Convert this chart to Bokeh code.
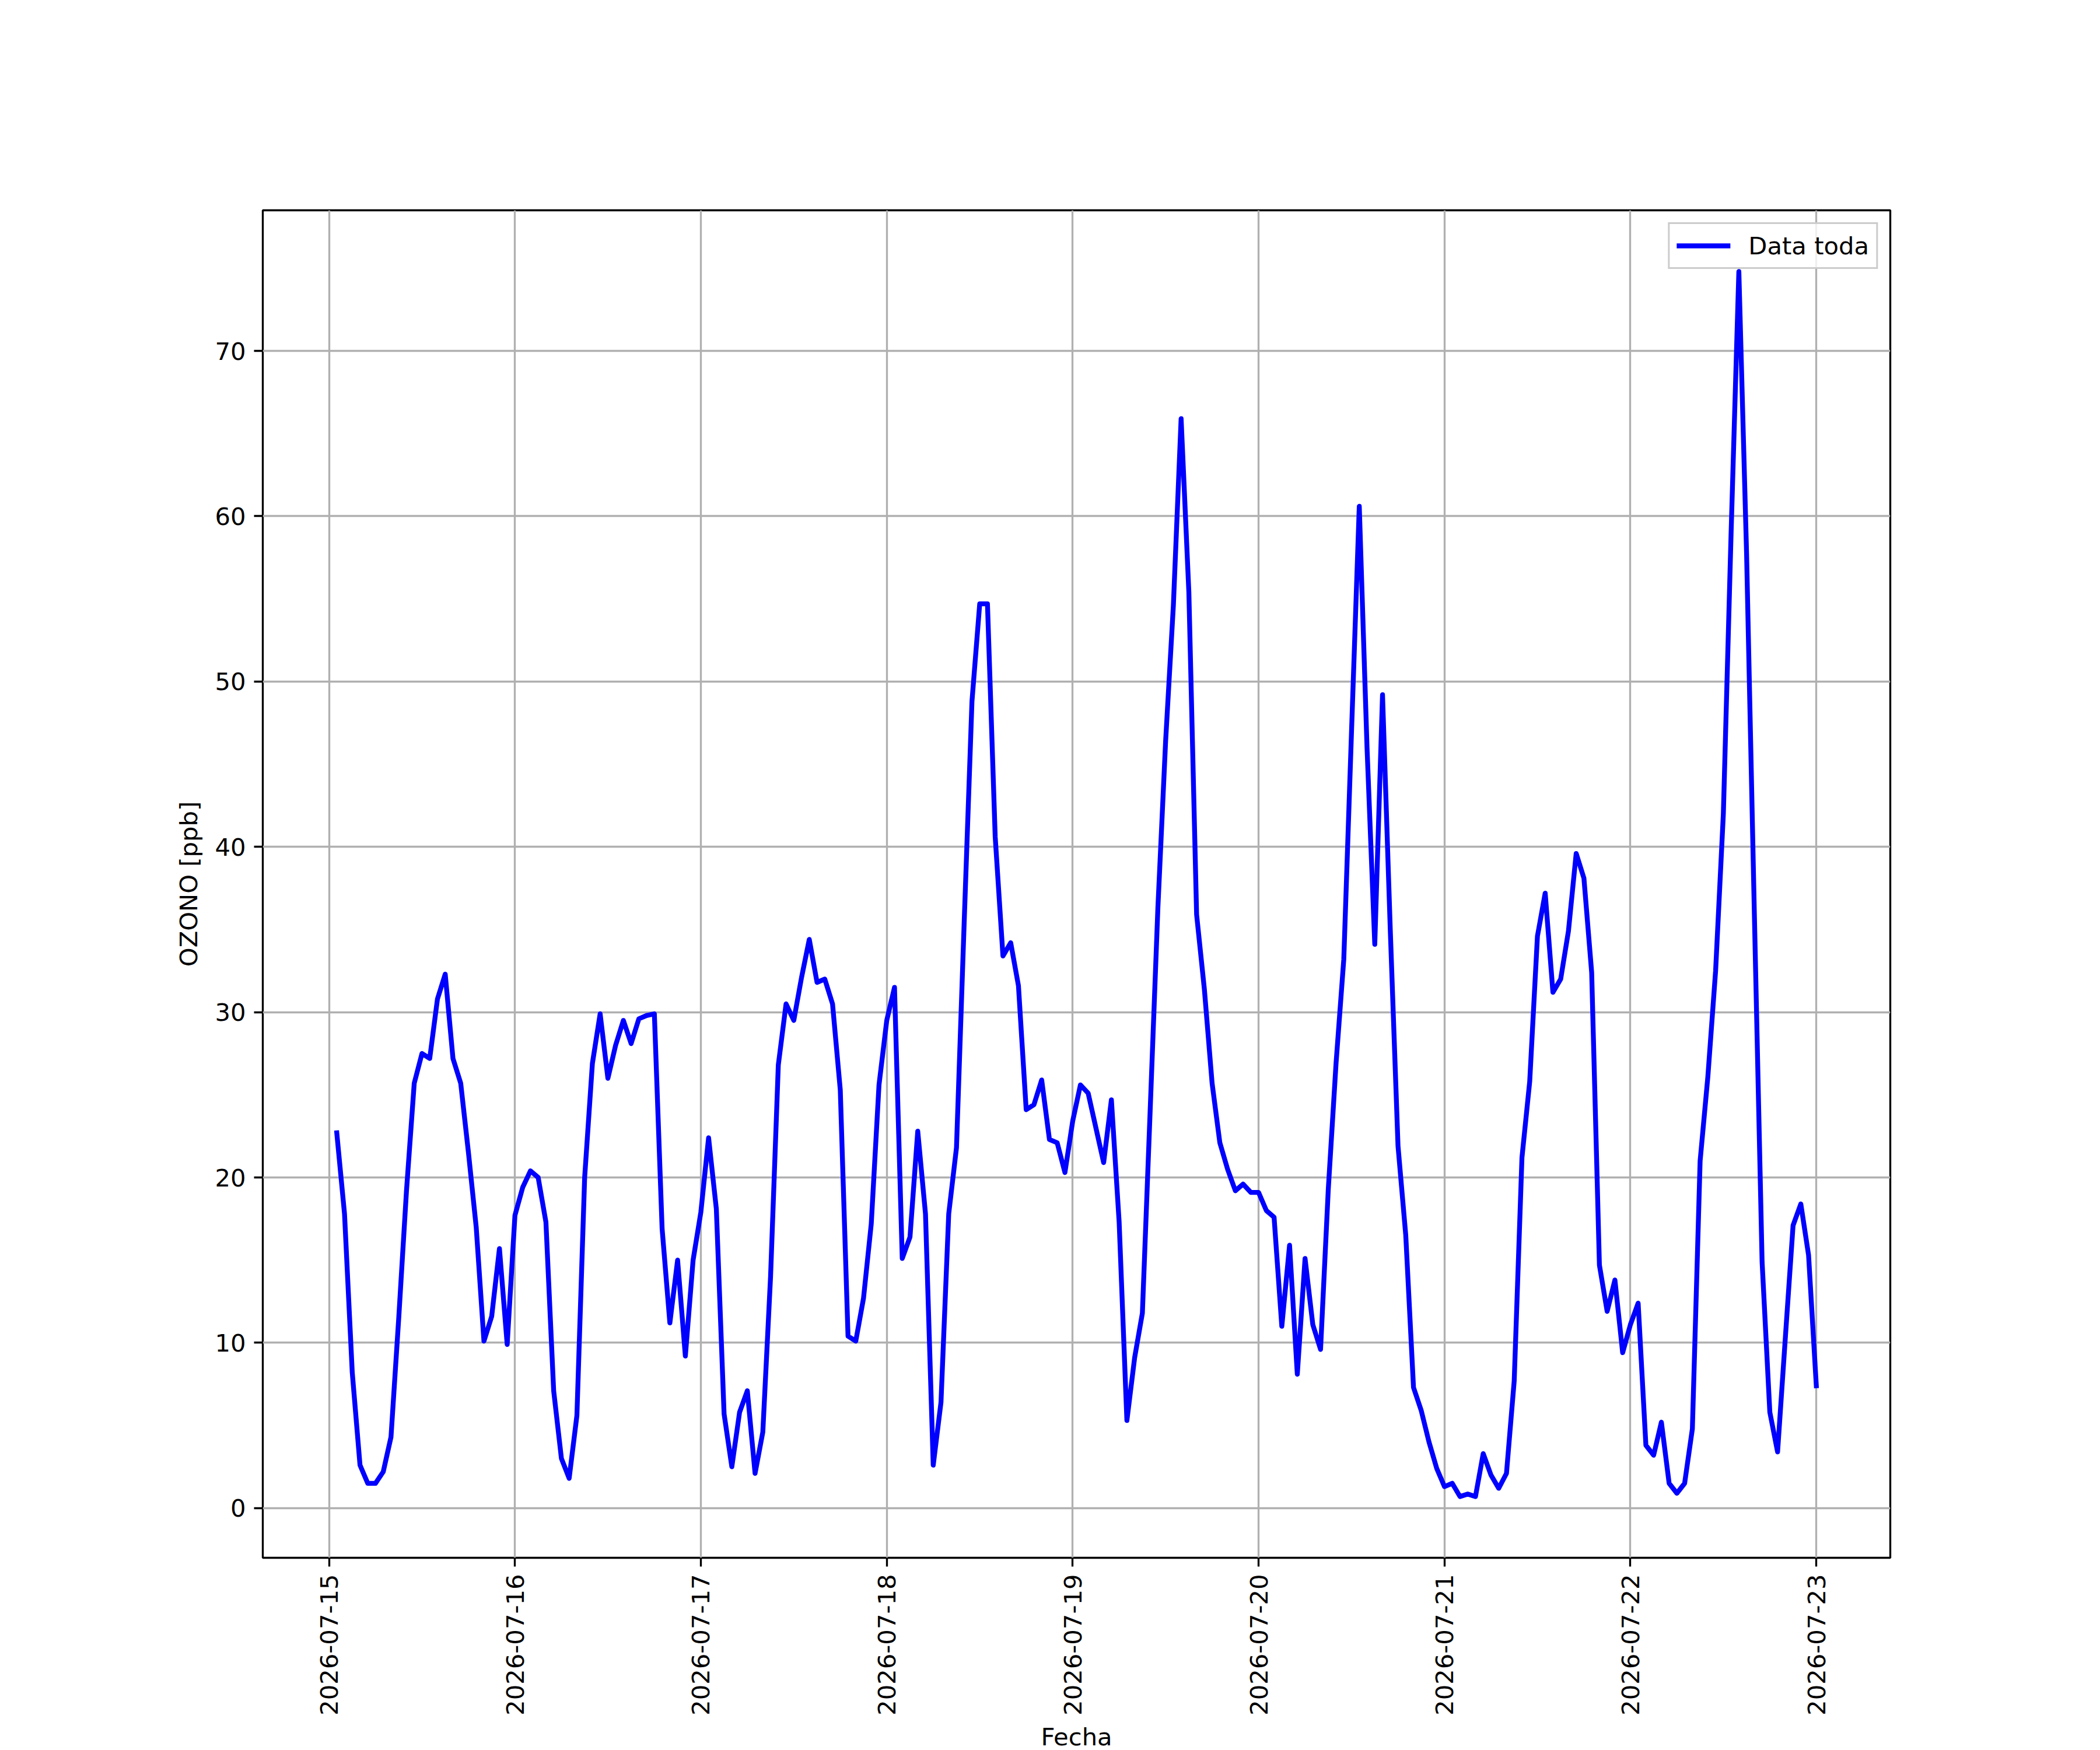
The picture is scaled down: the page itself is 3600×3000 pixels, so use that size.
import math
import pandas as pd
from bokeh.plotting import figure
from bokeh.models import Range1d, FixedTicker, DatetimeTickFormatter, ColumnDataSource
from bokeh.embed import file_html
from bokeh.resources import INLINE

# Hourly ozone readings [ppb], one list per day (01:00 .. 24:00)
o3_jul15 = [22.7, 17.8, 8.2, 2.6, 1.5, 1.5, 2.2, 4.3, 11.5, 19.2, 25.7, 27.5,
            27.2, 30.8, 32.3, 27.2, 25.7, 21.5, 17.0, 10.1, 11.6, 15.7, 9.9, 17.7]
o3_jul16 = [19.4, 20.4, 20.0, 17.3, 7.1, 3.0, 1.8, 5.6, 20.0, 26.9, 29.9, 26.0,
            28.0, 29.5, 28.1, 29.6, 29.8, 29.9, 16.9, 11.2, 15.0, 9.2, 15.0, 17.9]
o3_jul17 = [22.4, 18.1, 5.7, 2.5, 5.8, 7.1, 2.1, 4.6, 14.0, 26.8, 30.5, 29.5,
            32.1, 34.4, 31.8, 32.0, 30.5, 25.3, 10.4, 10.1, 12.7, 17.2, 25.6, 29.5]
o3_jul18 = [31.5, 15.1, 16.4, 22.8, 17.8, 2.6, 6.4, 17.8, 21.8, 35.5, 48.8, 54.7,
            54.7, 40.6, 33.4, 34.2, 31.6, 24.1, 24.4, 25.9, 22.3, 22.1, 20.3, 23.4]
o3_jul19 = [25.6, 25.1, 23.0, 20.9, 24.7, 17.3, 5.3, 9.1, 11.8, 24.0, 36.3, 46.4,
            54.6, 65.9, 55.4, 35.9, 31.4, 25.7, 22.1, 20.5, 19.2, 19.6, 19.1, 19.1]
o3_jul20 = [18.0, 17.6, 11.0, 15.9, 8.1, 15.1, 11.1, 9.6, 19.3, 26.9, 33.2, 47.0,
            60.6, 46.0, 34.1, 49.2, 35.0, 21.9, 16.5, 7.3, 5.9, 4.0, 2.4, 1.3]
o3_jul21 = [1.5, 0.7, 0.85, 0.7, 3.3, 2.0, 1.2, 2.1, 7.7, 21.2, 25.8, 34.6,
            37.2, 31.2, 32.0, 34.9, 39.6, 38.1, 32.4, 14.7, 11.9, 13.8, 9.4, 11.1]
o3_jul22 = [12.4, 3.8, 3.2, 5.2, 1.5, 0.9, 1.5, 4.8, 21.0, 26.1, 32.5, 42.0,
            59.0, 74.8, 57.7, 36.0, 14.9, 5.8, 3.4, 10.3, 17.1, 18.4, 15.3, 7.4]

ozono = (o3_jul15 + o3_jul16 + o3_jul17 + o3_jul18 +
         o3_jul19 + o3_jul20 + o3_jul21 + o3_jul22)
fechas = pd.date_range("2026-07-15 01:00", periods=len(ozono), freq="h")
tick_dates = pd.date_range("2026-07-15", "2026-07-23", freq="D")

serie_label = "Data toda"
x_label = "Fecha"
y_label = "OZONO [ppb]"

src = ColumnDataSource(dict(fecha=fechas, ozono=ozono))

def ms(t):
    return t.value / 1e6

x0, x1 = ms(fechas[0]), ms(fechas[-1])
xs = x1 - x0
y0, y1 = min(ozono), max(ozono)
ys = y1 - y0

FS = "41.7px"
FONT = "DejaVu Sans"
LW = 3.33

p = figure(frame_width=2790, frame_height=2310,
           min_border_left=450, min_border_right=348,
           min_border_top=360, min_border_bottom=318,
           x_axis_type="datetime",
           x_range=Range1d(x0 - 0.05 * xs, x1 + 0.05 * xs),
           y_range=Range1d(y0 - 0.05 * ys, y1 + 0.05 * ys),
           output_backend="svg", toolbar_location=None)

p.background_fill_color = "white"
p.border_fill_color = "white"
p.outline_line_color = "black"
p.outline_line_width = LW
p.outline_line_alpha = 1.0

p.xaxis.ticker = FixedTicker(ticks=[ms(t) for t in tick_dates])
fmt = "%Y-%m-%d"
p.xaxis.formatter = DatetimeTickFormatter(
    microseconds=fmt, milliseconds=fmt, seconds=fmt, minsec=fmt, minutes=fmt,
    hourmin=fmt, hours=fmt, days=fmt, months=fmt, years=fmt)
p.yaxis.ticker = FixedTicker(ticks=[0, 10, 20, 30, 40, 50, 60, 70])

for ax in (p.xaxis[0], p.yaxis[0]):
    ax.axis_line_color = None
    ax.major_tick_out = 15
    ax.major_tick_in = 0
    ax.major_tick_line_width = LW
    ax.major_tick_line_color = "black"
    ax.minor_tick_line_color = None
    ax.major_label_text_font = FONT
    ax.major_label_text_font_size = FS
    ax.major_label_text_color = "black"
    ax.axis_label_text_font = FONT
    ax.axis_label_text_font_size = FS
    ax.axis_label_text_font_style = "normal"
    ax.axis_label_text_color = "black"

p.xaxis.major_label_orientation = math.pi / 2
p.xaxis.major_label_standoff = 13
p.xaxis.axis_label_standoff = 9
p.xaxis.axis_label = x_label
p.yaxis.major_label_standoff = 14
p.yaxis.axis_label_standoff = 17
p.yaxis.axis_label = y_label

for g in (p.xgrid[0], p.ygrid[0]):
    g.grid_line_color = "#b0b0b0"
    g.grid_line_width = LW

p.line("fecha", "ozono", source=src, line_color="#0000ff", line_width=8.33,
       line_join="round", line_cap="square", legend_label=serie_label)

lg = p.legend[0]
lg.location = "top_right"
lg.margin = 21
lg.padding = 12
lg.spacing = 0
lg.glyph_width = 92
lg.glyph_height = 50
lg.label_standoff = 31
lg.label_text_font = FONT
lg.label_text_font_size = FS
lg.label_text_color = "black"
lg.border_line_color = "#cccccc"
lg.border_line_width = LW
lg.border_line_alpha = 1.0
lg.background_fill_alpha = 0.8

open("out.html", "w").write(file_html(p, INLINE))
